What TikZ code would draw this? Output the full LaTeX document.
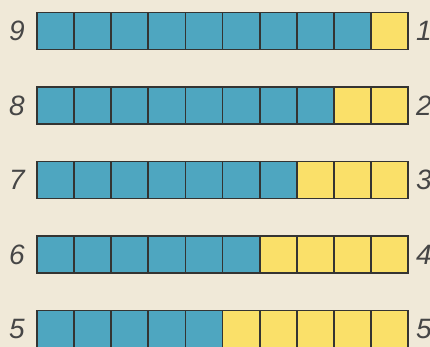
\documentclass[tikz,border=0pt]{standalone}
\usepackage{fontspec}
\setmainfont{Liberation Sans}
\definecolor{paper}{RGB}{240,233,216}
\definecolor{cellblue}{RGB}{78,166,192}
\definecolor{cellyellow}{RGB}{250,224,105}
\definecolor{edge}{RGB}{52,52,50}
\definecolor{digit}{RGB}{70,70,70}
\tikzset{
  cell/.style={draw=edge, line width=1.8pt, minimum width=37.1pt, minimum height=37pt, inner sep=0pt, outer sep=0pt},
  bluecell/.style={cell, fill=cellblue},
  yellowcell/.style={cell, fill=cellyellow},
  numlabel/.style={font=\fontsize{28}{28}\selectfont\itshape, text=digit, inner sep=0pt}
}
\begin{document}
\begin{tikzpicture}[x=1pt,y=-1pt]
\fill[paper] (0,0) rectangle (430,347);
\useasboundingbox (0,0) rectangle (430,347);
\foreach \r/\nb [count=\i from 0] in {1/9,2/8,3/7,4/6,5/5} {
  \pgfmathsetmacro{\yc}{31+74.5*\i}
  \foreach \k in {1,...,10} {
    \pgfmathsetmacro{\xc}{37+37.1*(\k-0.5)}
    \ifnum\k>\nb
      \node[yellowcell] (c\r-\k) at (\xc,\yc) {};
    \else
      \node[bluecell] (c\r-\k) at (\xc,\yc) {};
    \fi
  }
  \node[numlabel] (l\r) at (17,\yc) {\nb};
  \node[numlabel, anchor=west] (r\r) at (416,\yc) {\r};
}
\end{tikzpicture}
\end{document}
